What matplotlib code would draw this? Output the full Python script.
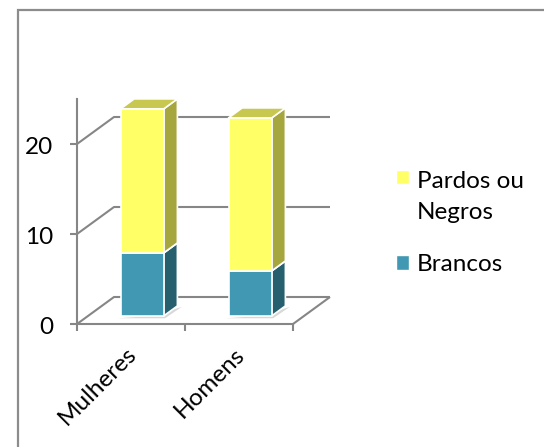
import matplotlib
matplotlib.use("Agg")
import matplotlib.pyplot as plt
from matplotlib.legend_handler import HandlerPatch
from matplotlib.lines import Line2D
from matplotlib.patches import Patch, Rectangle
from matplotlib.transforms import ScaledTranslation

categories = ["Mulheres", "Homens"]
brancos = [7, 5]
pardos = [16, 17]
yticks = [0, 10, 20]
ymax = 25

W, H = 544, 447
BLUE = ("#4198b3", "#26606f", "#2f7a8e")
YELLOW = ("#ffff66", "#a6a63f", "#c8c850")
GREY = "#868686"
FS = 17.5

plt.rcParams["font.family"] = ["Lato", "DejaVu Sans"]

fig = plt.figure(figsize=(W / 100, H / 100), dpi=100)

# outer frame, only top and left fall on the canvas
fig.add_artist(Line2D([17.5 / W, 17.5 / W, 1], [0, 1 - 9.5 / H, 1 - 9.5 / H],
                      color="#8c8c8c", lw=1.6, solid_joinstyle="miter"))

ax = fig.add_axes([77 / W, 1 - 324 / H, 216 / W, 225 / H])
ax.set_xlim(0, 2)
ax.set_ylim(0, ymax)
ax.patch.set_visible(False)

# depth of the floor, in x and value units
DX, DY = 37 / 108, 3.0


def proj(x, v, d):
    return x + DX * d, v + DY * d


def line(pts, **kw):
    xs, ys = zip(*pts)
    ax.plot(xs, ys, color=GREY, lw=1.5, clip_on=False, solid_capstyle="butt", **kw)


# floor and back gridlines
for v in yticks:
    line([proj(0, v, 0), proj(0, v, 1), proj(2, v, 1)], zorder=1)
line([proj(2, 0, 0), proj(2, 0, 1)], zorder=1)


def box(x0, x1, v0, v1, cols):
    d0, d1 = 0.3, 0.67
    front = [proj(x0, v0, d0), proj(x1, v0, d0), proj(x1, v1, d0), proj(x0, v1, d0)]
    side = [proj(x1, v0, d0), proj(x1, v0, d1), proj(x1, v1, d1), proj(x1, v1, d0)]
    top = [proj(x0, v1, d0), proj(x1, v1, d0), proj(x1, v1, d1), proj(x0, v1, d1)]
    for poly, c in zip((side, top, front), (cols[1], cols[2], cols[0])):
        xs, ys = zip(*poly)
        ax.fill(xs, ys, fc=c, ec="white", lw=1.2, clip_on=False, zorder=3, joinstyle="round")


for i in range(len(categories)):
    x0, x1 = i + 0.3, i + 0.7
    # soft floor shadow under the column
    sx, sy = zip(proj(x0 - 0.02, -0.2, 0.28), proj(x1 + 0.02, -0.2, 0.28),
                 proj(x1 + 0.03, -0.2, 0.7), proj(x1 - 0.1, 0, 0.3))
    ax.fill(sx, sy, fc="#d8d8d8", ec="none", clip_on=False, zorder=2)
    box(x0, x1, 0, brancos[i], BLUE)
    box(x0, x1, brancos[i], brancos[i] + pardos[i], YELLOW)

for s in ("top", "right"):
    ax.spines[s].set_visible(False)
for s in ("left", "bottom"):
    ax.spines[s].set_color(GREY)
    ax.spines[s].set_linewidth(1.5)
    ax.spines[s].set_zorder(4)

ax.set_yticks(yticks)
ax.set_xticks([0, 1, 2])
ax.set_xticklabels([])
ax.set_xticks([0.5, 1.5], categories, minor=True)
ax.tick_params(axis="x", which="major", length=5, width=1.5, color=GREY)
ax.tick_params(axis="x", which="minor", length=0, pad=14, labelsize=FS, labelrotation=45)
ax.tick_params(axis="y", length=5, width=1.5, color=GREY, labelsize=FS, pad=12)
for lab in ax.get_xticklabels(minor=True):
    lab.set_ha("right")
    lab.set_rotation_mode("anchor")
    lab.set_transform(lab.get_transform() + ScaledTranslation(-5 / 100, 0, fig.dpi_scale_trans))
for lab in ax.get_yticklabels():
    lab.set_transform(lab.get_transform() + ScaledTranslation(0, -2 / 100, fig.dpi_scale_trans))


def raised_square(legend, orig_handle, xdescent, ydescent, width, height, fontsize):
    # keep the marker level with the first line of a two-line label
    return Rectangle((-xdescent, -ydescent + 14), width, height)


yellow = Patch(fc=YELLOW[0], ec="white")
blue = Patch(fc=BLUE[0], ec="white")
leg = fig.legend([yellow, blue], ["Pardos ou\nNegros", "Brancos"], loc="center left",
                 bbox_to_anchor=(396 / W, 1 - 223 / H), frameon=False, fontsize=FS,
                 handlelength=0.55, handleheight=0.55, handletextpad=0.3, labelspacing=1.3,
                 borderpad=0, borderaxespad=0,
                 handler_map={yellow: HandlerPatch(patch_func=raised_square)})
for t in leg.get_texts():
    t.set_linespacing(1.6)

fig.savefig("out.png", dpi=100)
